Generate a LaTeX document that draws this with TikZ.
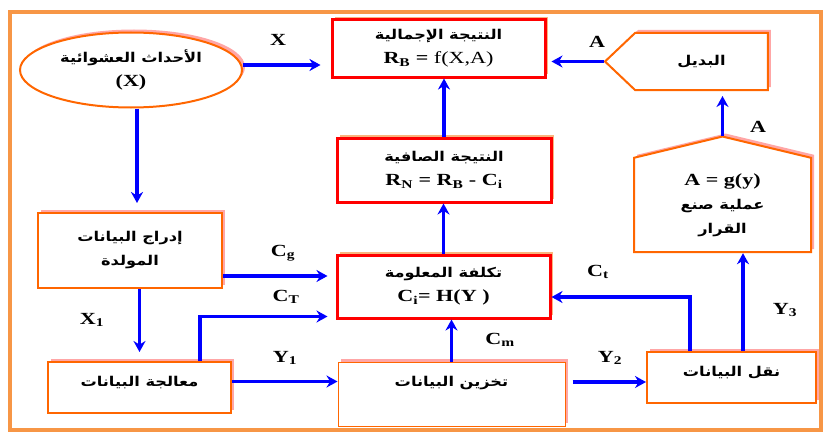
\documentclass[tikz,border=0pt]{standalone}
\usepackage{fontspec}
\setmainfont{Liberation Serif}[FakeStretch=1.3]
\newfontfamily\arabicfont[Script=Arabic, FakeStretch=1.2]{DejaVu Sans}
\TeXXeTstate=1
\usetikzlibrary{arrows.meta, shapes.geometric, shapes.symbols, shadows}

\definecolor{frameorange}{HTML}{F79646}
\definecolor{boxorange}{HTML}{FF6600}
\definecolor{boxred}{HTML}{FF0000}
\definecolor{flowblue}{HTML}{0000FF}

\newcommand{\arab}[1]{{\arabicfont\bfseries\beginR #1\endR}}
\newcommand{\formula}[1]{{\bfseries\fontsize{17}{17}\selectfont #1}}

\begin{document}
\begin{tikzpicture}[
    x=1pt, y=-1pt,
    >={Stealth[length=11pt,width=12pt]},
    block/.style={rectangle, draw=boxorange, line width=2pt, fill=white, align=center, inner sep=2pt, font=\fontsize{13.5}{24}\selectfont, drop shadow={shadow xshift=3pt, shadow yshift=3pt, fill=red!35, opacity=1}},
    result/.style={block, draw=boxred, line width=3pt, drop shadow={shadow xshift=3pt, shadow yshift=3pt, fill=frameorange!70, opacity=1}},
    line/.style={draw=flowblue, ->, line width=3.6pt},
    lbl/.style={font=\bfseries\fontsize{17}{17}\selectfont}
]
    \useasboundingbox (0,0) rectangle (826,436);
    \draw[frameorange, line width=4.5pt] (10,12) rectangle (821,430);

    \node (event) [block, ellipse, minimum width=222pt, minimum height=75pt] at (131,70) {\arab{الأحداث العشوائية}\\ \formula{(X)}};
    \node (gross) [result, minimum width=213pt, minimum height=57pt] at (438.5,48.5) {\arab{النتيجة الإجمالية}\\ \formula{R\textsubscript{B} = \mdseries f(X,A)}};
    \node (alt) [block, signal, signal to=west, signal pointer angle=87, minimum width=163pt, minimum height=57pt] at (701.5,61.5) {\arab{البديل}};

    \node (net) [result, minimum width=214pt, minimum height=64pt] at (444,170) {\arab{النتيجة الصافية}\\ \formula{R\textsubscript{N} = R\textsubscript{B} - C\textsubscript{i}}};
    \node (decision) [block, signal, signal to=north, signal pointer angle=153, minimum width=177pt, minimum height=105pt] at (722.5,205) {\formula{A = g(y)}\\ \arab{عملية صنع}\\ \arab{القرار}};

    \node (input) [block, minimum width=184pt, minimum height=75pt] at (130,250.5) {\arab{إدراج البيانات}\\ \arab{المولدة}};
    \node (cost) [result, minimum width=213pt, minimum height=63pt] at (443.5,286.5) {\arab{تكلفة المعلومة}\\ \formula{C\textsubscript{i}= H(Y )}};

    \node (treat) [block, minimum width=183pt, minimum height=51pt, text height=10pt, text depth=13pt] at (139.5,387.5) {\arab{معالجة البيانات}};
    \node (store) [block, line width=1pt, minimum width=227pt, minimum height=64pt, text height=10pt, text depth=26pt] at (451.5,394) {\arab{تخزين البيانات}};
    \node (send) [block, minimum width=169pt, minimum height=51pt, text height=10pt, text depth=13pt] at (731.5,377.5) {\arab{نقل البيانات}};

    \draw[line, shorten >=10pt] ([yshift=5pt]event.east) -- ([yshift=5pt]event.east -| gross.west);
    \draw[line, shorten >=5pt] (alt.west) -- (alt.west -| gross.east);
    \draw[line, shorten >=5pt] (decision.north) -- (decision.north |- alt.south);
    \draw[line, shorten >=9pt] ([xshift=6pt]event.south) -- ([xshift=6pt]event.south |- input.north);
    \draw[line, shorten >=9pt] (input.south -| treat.north) -- (treat.north);
    \draw[line, shorten >=8pt] ([yshift=-25.5pt]input.east) -- ([yshift=-25.5pt]input.east -| cost.west);
    \draw[line, shorten >=8pt] ([xshift=60.5pt]treat.north) |- ([yshift=3pt]cost.south west);
    \draw[line] ([yshift=6pt]treat.east) -- ([yshift=6pt]treat.east -| store.west);
    \draw[line] (store.north) -- (store.north |- cost.south);
    \draw[line] (cost.north) -- (cost.north |- net.south);
    \draw[line] (net.north) -- (net.north |- gross.south);
    \draw[line, shorten <=7pt] ([yshift=12pt]store.east) -- ([yshift=12pt]store.east -| send.west);
    \draw[line] ([xshift=-41.5pt]send.north) |- ([yshift=-10.5pt]cost.east);
    \draw[line] ([xshift=11.5pt]send.north) -- ([xshift=11.5pt]send.north |- decision.south);

    \node (lx) [lbl] at (278,40) {X};
    \node (la) [lbl] at (597,42) {A};
    \node (la2) [lbl] at (758,127) {A};
    \node (lx1) [lbl] at (92,320) {X\textsubscript{1}};
    \node (lcg) [lbl] at (283,253) {C\textsubscript{g}};
    \node (lct) [lbl] at (286,297) {C\textsubscript{T}};
    \node (ly1) [lbl] at (285,358) {Y\textsubscript{1}};
    \node (lcm) [lbl] at (500,340) {C\textsubscript{m}};
    \node (ly2) [lbl] at (610,358) {Y\textsubscript{2}};
    \node (lct2) [lbl] at (598,272) {C\textsubscript{t}};
    \node (ly3) [lbl] at (785,310) {Y\textsubscript{3}};

\end{tikzpicture}
\end{document}
